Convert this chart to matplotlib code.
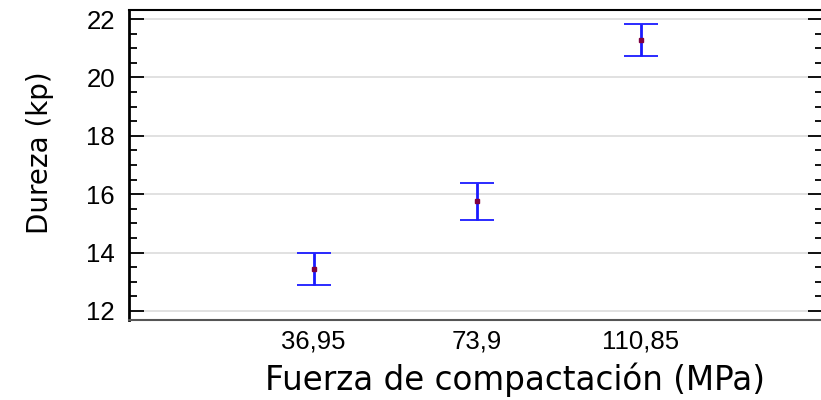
"""
Dureza vs fuerza de compactacion - medias con intervalos
"""

import matplotlib.pyplot as plt

# Data
fuerza = [36.95, 73.9, 110.85]
fuerza_labels = ['36,95', '73,9', '110,85']
dureza_media = [13.44, 15.78, 21.27]
dureza_inf = [12.90, 15.13, 20.73]
dureza_sup = [13.99, 16.39, 21.82]


def plot_chart():
    fig = plt.figure(figsize=(8.21, 4.0), dpi=100)
    ax = fig.add_axes([0.157, 0.2, 0.845, 0.775])

    err_low = [m - lo for m, lo in zip(dureza_media, dureza_inf)]
    err_high = [hi - m for m, hi in zip(dureza_media, dureza_sup)]
    ax.errorbar(fuerza, dureza_media, yerr=[err_low, err_high], fmt='none',
                ecolor='#1a1aff', elinewidth=2.0, capsize=12, capthick=1.3,
                zorder=3)
    ax.plot(fuerza, dureza_media, 's', color='#800040', markersize=3.5,
            zorder=4)

    ax.set_xlim(-4.8, 152)
    ax.set_ylim(11.69, 22.31)
    ax.set_yticks([12, 14, 16, 18, 20, 22])
    ax.set_yticks([12 + 0.5 * i for i in range(21)], minor=True)
    ax.set_xticks(fuerza)
    ax.set_xticklabels(fuerza_labels)

    ax.grid(axis='y', color='#dcdcdc', linewidth=1.2, zorder=0)
    ax.tick_params(axis='y', which='major', direction='in', length=11,
                   width=1.3, left=True, right=True, labelsize=18.5, pad=10)
    ax.tick_params(axis='y', which='minor', direction='in', length=6,
                   width=1.3, left=True, right=True)
    ax.tick_params(axis='x', length=0, labelsize=18.5, pad=7)

    for lab in ax.get_xticklabels() + ax.get_yticklabels():
        lab.set_fontfamily('Liberation Sans')

    ax.spines['left'].set_linewidth(2)
    ax.spines['left'].set_color('black')
    ax.spines['top'].set_linewidth(1.5)
    ax.spines['bottom'].set_linewidth(1.5)
    ax.spines['bottom'].set_color('#555555')
    ax.spines['right'].set_visible(False)

    ax.set_xlabel('Fuerza de compactación (MPa)', fontsize=23.5,
                  fontfamily='DejaVu Sans', labelpad=6)
    ax.set_ylabel('Dureza (kp)', fontsize=20, fontfamily='DejaVu Sans',
                  labelpad=23)
    ax.xaxis.label.set_x(0.557)
    ax.yaxis.label.set_y(0.54)

    fig.savefig('out.png', dpi=100)


if __name__ == '__main__':
    plot_chart()
